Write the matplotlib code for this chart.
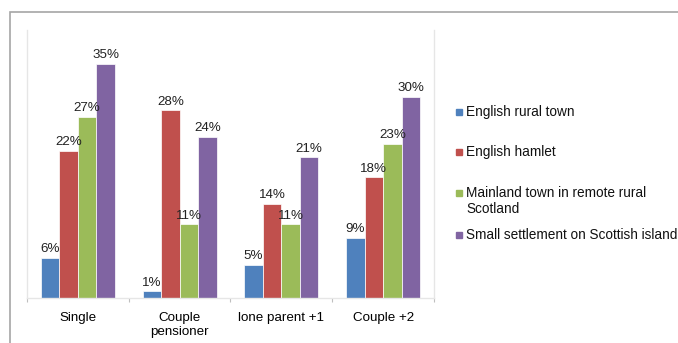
import numpy as np
import matplotlib.pyplot as plt
from matplotlib.patches import Rectangle

categories = ['Single', 'Couple\npensioner', 'lone parent +1', 'Couple +2']
series = ['English rural town', 'English hamlet',
          'Mainland town in remote rural\nScotland', 'Small settlement on Scottish island']
rural_town = [6, 1, 5, 9]
hamlet = [22, 28, 14, 18]
mainland_scot = [27, 11, 11, 23]
island = [35, 24, 21, 30]

values = [rural_town, hamlet, mainland_scot, island]
colors = ['#4F81BD', '#C0504D', '#9BBB59', '#8064A2']

W, H = 678, 343
fig = plt.figure(figsize=(W / 100, H / 100), dpi=100)
fig.patch.set_facecolor('white')

# outer chart frame (cut off at right/bottom in the reference)
fig.patches.append(Rectangle((10 / W, -0.2), 1.2, 1.2 - 12 / H,
                             transform=fig.transFigure, fill=False,
                             edgecolor='#A6A6A6', lw=1.2))

ax = fig.add_axes([27 / W, 1 - 298 / H, (434 - 27) / W, (298 - 30) / H])

x = np.arange(len(categories))
bw = 0.182
offsets = (np.arange(4) - 1.5) * bw
for vals, off, c in zip(values, offsets, colors):
    bars = ax.bar(x + off, vals, bw, color=c, edgecolor='white', linewidth=0.5)
    for b, v in zip(bars, vals):
        ax.annotate(f'{v}%', (b.get_x() + b.get_width() / 2, v),
                    xytext=(0, 2), textcoords='offset points',
                    ha='center', va='bottom', fontsize=9.6, color='#222222',
                    family='Liberation Sans')

ax.set_xlim(-0.5, 3.5)
ax.set_ylim(0, 40)
ax.set_yticks([])
ax.set_xticks(np.arange(-0.5, 4, 1), minor=False)
ax.set_xticklabels([])
ax.tick_params(axis='x', length=3, color='#BFBFBF', direction='out')
ax.set_xticks(x, minor=True)
ax.set_xticklabels(categories, minor=True, fontsize=9.6, family='Liberation Sans',
                   linespacing=1.25)
ax.tick_params(axis='x', which='minor', length=0, pad=10)
ax.spines['top'].set_visible(False)
for s in ['left', 'right', 'bottom']:
    ax.spines[s].set_color('#E6E6E6')
    ax.spines[s].set_linewidth(1)

# legend drawn to the right, matching the uneven spacing of the original
leg_y = [112, 152, 193, 235]
for lab, c, yy in zip(series, colors, leg_y):
    fig.patches.append(Rectangle((456 / W, 1 - (yy + 3) / H), 6 / W, 6 / H,
                                 transform=fig.transFigure, color=c))
    fig.text(466 / W, 1 - (yy - 7) / H, lab, ha='left', va='top', fontsize=9.8,
             family='Liberation Sans', color='#111111', linespacing=1.2)

fig.savefig('out.png', dpi=100)
